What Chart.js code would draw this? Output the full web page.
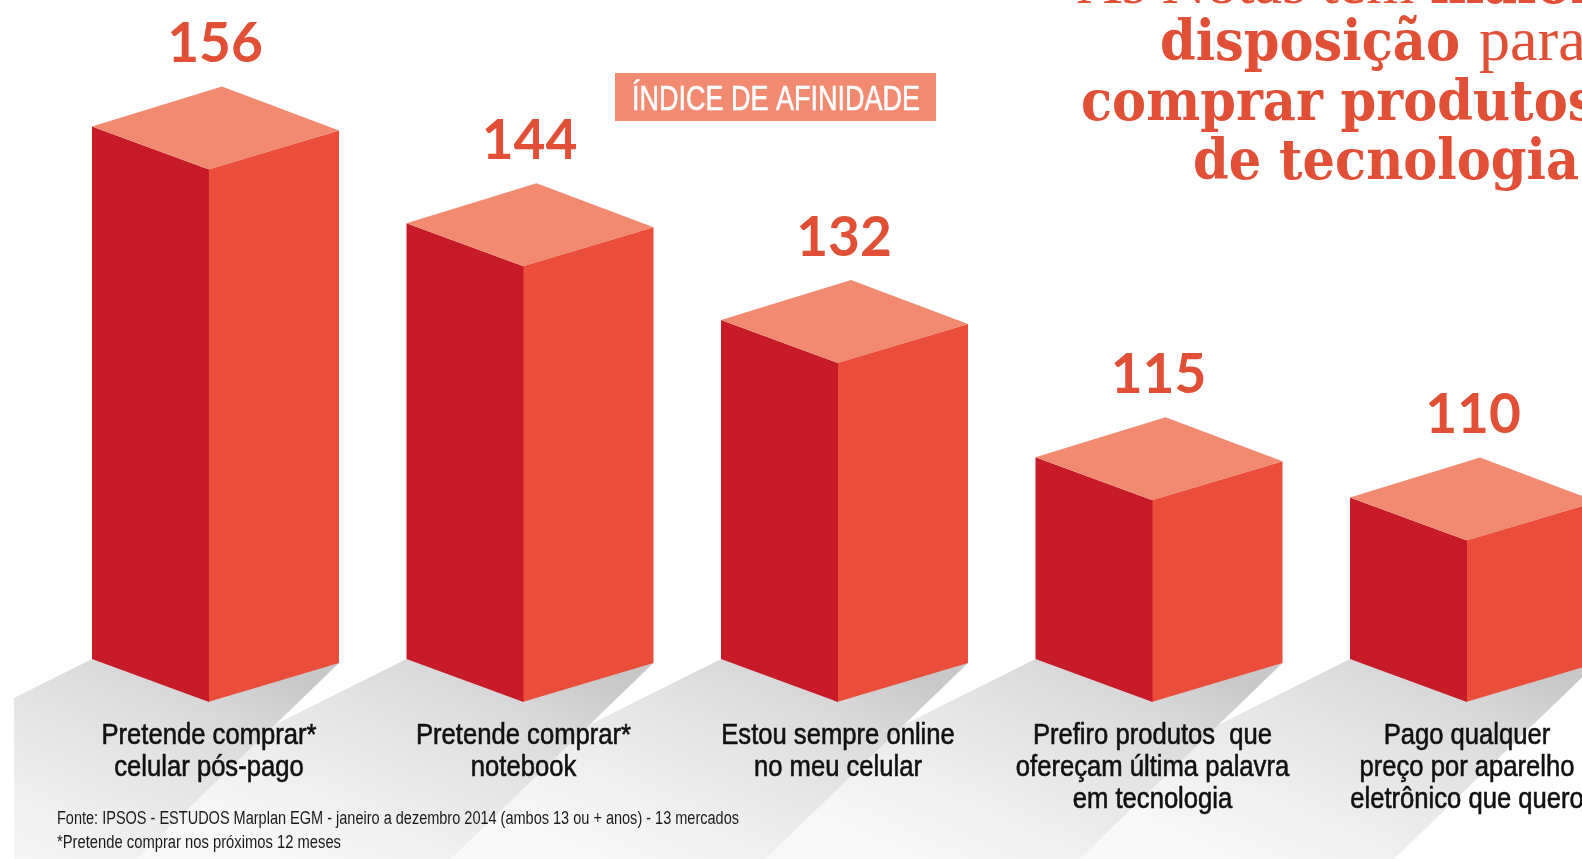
<!DOCTYPE html>
<html lang="pt-BR">
<head>
<meta charset="utf-8">
<title>Índice de afinidade</title>
<style>
  html, body { margin: 0; padding: 0; background: #fff; overflow: hidden; }
  canvas { display: block; }
</style>
<script src="https://cdn.jsdelivr.net/npm/chart.js@4/dist/chart.umd.js"></script>
</head>
<body>
<canvas id="afinidade" width="1582" height="859"></canvas>
<script>
const categories = [
    ['Pretende comprar*', 'celular pós-pago'],
    ['Pretende comprar*', 'notebook'],
    ['Estou sempre online', 'no meu celular'],
    ['Prefiro produtos  que', 'ofereçam última palavra', 'em tecnologia'],
    ['Pago qualquer', 'preço por aparelho', 'eletrônico que quero']
];
const indexValues = [156, 144, 132, 115, 110];
const badgeText = 'ÍNDICE DE AFINIDADE';
const footnotes = [
    'Fonte: IPSOS - ESTUDOS Marplan EGM - janeiro a dezembro 2014 (ambos 13 ou + anos) - 13 mercados',
    '*Pretende comprar nos próximos 12 meses'
];

const RED_DARK = '#c81b2a';
const RED_MID = '#ea4e3a';
const RED_LIGHT = '#f18a71';
const TEXT_RED = '#e04f36';
const SERIF_BOLD = 'bold 56px "DejaVu Serif"';
const SERIF_THIN = '62px "Liberation Serif"';
const SANS = '"Liberation Sans"';

// each prism is a front vertical edge plus two side faces and a top
const LEFT_W = 117, RIGHT_W = 130, LEFT_RISE = 43, RIGHT_RISE = 39;

function polygon(ctx, points, fill) {
    ctx.beginPath();
    points.forEach(function(p, i) {
        if (i == 0) ctx.moveTo(p[0], p[1]);
        else ctx.lineTo(p[0], p[1]);
    });
    ctx.closePath();
    ctx.fillStyle = fill;
    ctx.fill();
}

// no condensed face is available, so the regular one is squeezed sideways;
// a thin outline of the same colour gives it some extra weight
function squeezed(ctx, text, x, y, sx, weight) {
    ctx.save();
    ctx.translate(x, y);
    ctx.scale(sx, 1);
    ctx.fillText(text, 0, 0);
    if (weight) {
        ctx.strokeStyle = ctx.fillStyle;
        ctx.lineWidth = weight;
        ctx.strokeText(text, 0, 0);
    }
    ctx.restore();
}

function fitted(ctx, text, x, y, width, weight) {
    squeezed(ctx, text, x, y, width / ctx.measureText(text).width, weight);
}

const prismPlugin = {
    id: 'prisms',
    // shadows go under the category labels, so they are painted first
    beforeDraw(chart) {
        const ctx = chart.ctx;
        const bars = chart.getDatasetMeta(0).data;
        const base = chart.scales.y.bottom;
        ctx.save();
        ctx.fillStyle = '#fff';
        ctx.fillRect(0, 0, chart.width, chart.height);
        ctx.beginPath();
        ctx.rect(14, 0, chart.width - 14, chart.height);
        ctx.clip();
        for (let i = bars.length - 1; i >= 0; i--) {
            const x = bars[i].x;
            const leftX = x - LEFT_W, leftY = base - LEFT_RISE;
            const rightX = x + RIGHT_W, rightY = base - RIGHT_RISE;
            const grad = ctx.createLinearGradient(x + 70, base - 30, x - 55, base + 245);
            grad.addColorStop(0, '#c8c8c8');
            grad.addColorStop(0.2, '#d8d8d8');
            grad.addColorStop(0.45, '#e4e4e4');
            grad.addColorStop(0.8, '#f2f2f2');
            grad.addColorStop(1, '#f8f8f8');
            polygon(ctx, [
                [leftX, leftY],
                [x, base - 60],
                [rightX, rightY],
                [rightX - 205, chart.height + 2],
                [leftX - 330, chart.height + 2],
                [leftX - 330, leftY + 165]
            ], grad);
        }
        ctx.restore();

        // category labels
        ctx.save();
        ctx.fillStyle = '#111';
        ctx.font = '29px ' + SANS;
        ctx.textAlign = 'center';
        ctx.textBaseline = 'middle';
        const sx = 215 / ctx.measureText(categories[0][0]).width;
        categories.forEach(function(lines, i) {
            lines.forEach(function(line, n) {
                squeezed(ctx, line, chart.scales.x.getPixelForTick(i), 736 + n * 32, sx, 0.6);
            });
        });
        ctx.restore();
    },
    afterDatasetsDraw(chart) {
        const ctx = chart.ctx;
        const bars = chart.getDatasetMeta(0).data;
        const base = chart.scales.y.bottom;
        bars.forEach(function(bar, i) {
            const x = bar.x, top = bar.y;
            const leftX = x - LEFT_W, rightX = x + RIGHT_W;
            polygon(ctx, [[x - 1, top], [rightX, top - RIGHT_RISE], [rightX, base - RIGHT_RISE], [x - 1, base]], RED_MID);
            polygon(ctx, [[leftX, top - LEFT_RISE], [x, top], [x, base], [leftX, base - LEFT_RISE]], RED_DARK);
            polygon(ctx, [
                [leftX, top - LEFT_RISE],
                [x + 13, top - 83],
                [rightX, top - RIGHT_RISE],
                [x, top]
            ], RED_LIGHT);

            ctx.fillStyle = TEXT_RED;
            ctx.font = 'bold 55px Lato';
            ctx.textAlign = 'center';
            ctx.textBaseline = 'middle';
            ctx.fillText(String(indexValues[i]), x + 6, top - 125);
        });
    },
    afterDraw(chart) {
        const ctx = chart.ctx;
        ctx.save();

        // badge
        ctx.fillStyle = RED_LIGHT;
        ctx.fillRect(615, 73, 321, 48);
        ctx.fillStyle = '#fff';
        ctx.font = '35px ' + SANS;
        ctx.textAlign = 'left';
        ctx.textBaseline = 'alphabetic';
        fitted(ctx, badgeText, 632, 110, 288, 0.6);

        // headline, its first line runs off the top
        ctx.fillStyle = TEXT_RED;
        ctx.font = SERIF_BOLD;
        const sx = 300 / ctx.measureText('disposição').width;
        squeezed(ctx, 'maior', 1430, 3, sx);
        squeezed(ctx, 'disposição', 1160, 60, sx);
        squeezed(ctx, 'comprar produtos', 1081, 120, sx);
        squeezed(ctx, 'de tecnologia', 1193, 179, sx);
        ctx.font = SERIF_THIN;
        ctx.fillText('As Notas têm', 1077, 3);
        ctx.fillText('para', 1479, 60);

        // sources
        ctx.fillStyle = '#1a1a1a';
        ctx.font = '18px ' + SANS;
        fitted(ctx, footnotes[0], 57, 824, 682);
        fitted(ctx, footnotes[1], 57, 848, 284);
        ctx.restore();
    }
};

new Chart(document.getElementById('afinidade'), {
    type: 'bar',
    data: {
        labels: categories,
        datasets: [{
            data: indexValues,
            backgroundColor: 'rgba(0,0,0,0)'
        }]
    },
    plugins: [prismPlugin],
    options: {
        responsive: false,
        animation: false,
        layout: {
            padding: { left: 209, right: 115, top: 0, bottom: 157 }
        },
        plugins: {
            legend: { display: false },
            title: { display: false },
            tooltip: { enabled: false }
        },
        scales: {
            x: {
                display: false,
                offset: false
            },
            y: {
                display: false,
                min: 90,
                max: 177
            }
        }
    }
});
</script>
</body>
</html>
